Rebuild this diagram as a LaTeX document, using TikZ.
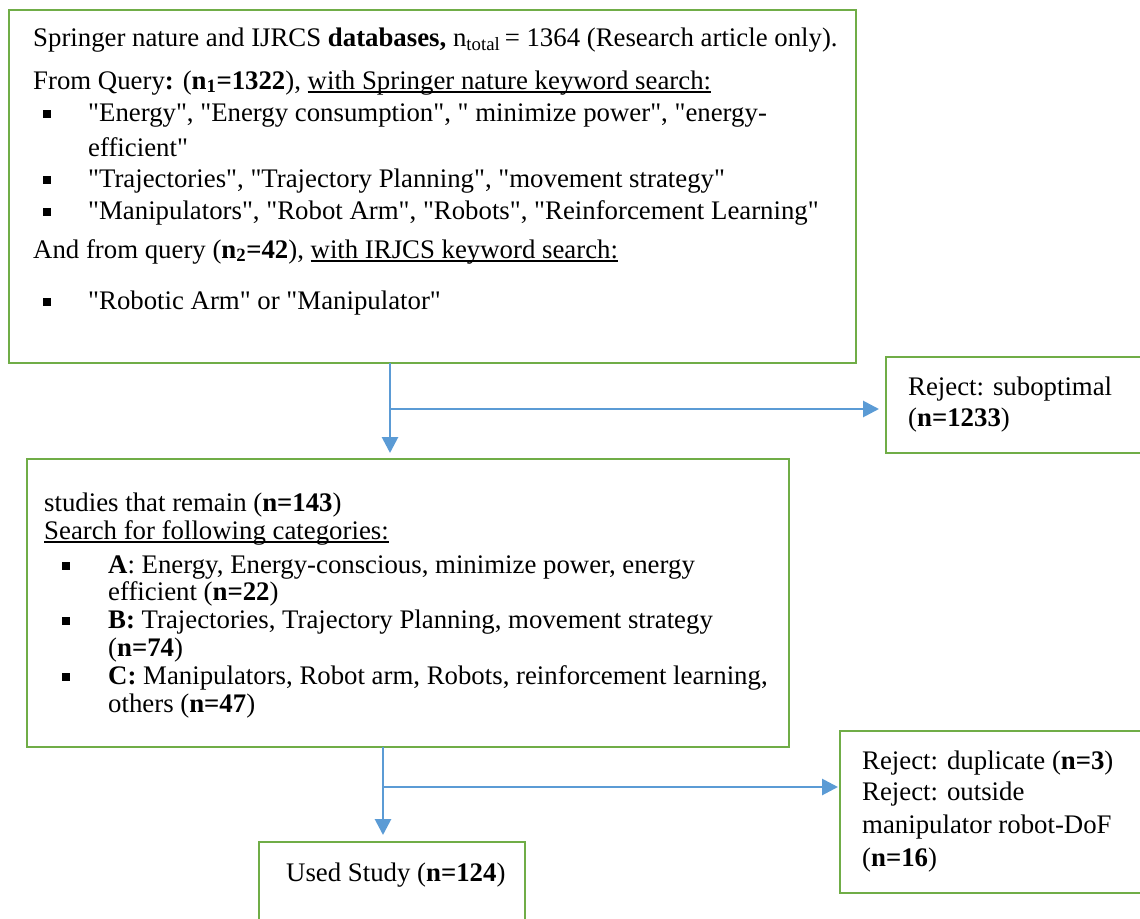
\documentclass[tikz,border=0pt]{standalone}
\usepackage{fontspec}
\setmainfont{Liberation Serif}[Ligatures=TeXOff]
\usetikzlibrary{arrows.meta}
\definecolor{boxgreen}{HTML}{70AD47}
\definecolor{flowblue}{HTML}{5B9BD5}
\newcommand{\bulsq}{\rule[3pt]{7.5pt}{8pt}}
\newcommand{\myul}[1]{\setbox0\hbox{#1}\rlap{\rule[-3.5pt]{\wd0}{1.8pt}}\box0}
\begin{document}
\begin{tikzpicture}[x=1pt,y=-1pt,
  box/.style={draw=boxgreen, line width=2.8pt, anchor=north west, inner sep=0pt, outer sep=0pt},
  txt/.style={anchor=base west, inner sep=0pt, font=\fontsize{26.8}{30}\selectfont},
  flow/.style={draw=flowblue, line width=2.8pt, -{Triangle[length=16pt,width=16pt]}}]
\clip (0,0) rectangle (1140,918);
% boxes
\node[box, minimum width=847pt, minimum height=353pt] (b1) at (9,10) {};
\node[box, minimum width=300pt, minimum height=96pt] (r1) at (886,357) {};
\node[box, minimum width=762pt, minimum height=288pt] (b2) at (27,459) {};
\node[box, minimum width=320pt, minimum height=162pt] (r2) at (840,731) {};
\node[box, minimum width=266pt, minimum height=120pt] (u) at (259,842) {};
% box 1 text
\node[txt] (t11) at (33,46) {Springer nature and IJRCS \textbf{databases,} n\textsubscript{total}\,= 1364 (Research article only).};
\node[txt] (t12) at (33,89) {From Query\textbf{:} (\textbf{n\textsubscript{1}=1322}), \myul{with Springer nature keyword search:}};
\node[txt] (t13) at (43,121) {\makebox[45pt][l]{\bulsq}"Energy", "Energy consumption", " minimize power", "energy-};
\node[txt] (t14) at (88,156) {efficient"};
\node[txt] (t15) at (43,187) {\makebox[45pt][l]{\bulsq}"Trajectories", "Trajectory Planning", "movement strategy"};
\node[txt] (t16) at (43,219) {\makebox[45pt][l]{\bulsq}"Manipulators", "Robot Arm", "Robots", "Reinforcement Learning"};
\node[txt] (t17) at (33,258) {And from query (\textbf{n\textsubscript{2}=42}), \myul{with IRJCS keyword search:}};
\node[txt] (t18) at (43,309) {\makebox[45pt][l]{\bulsq}"Robotic Arm" or "Manipulator"};
% reject 1
\node[txt] (t21) at (908,395) {Reject: suboptimal};
\node[txt] (t22) at (908,426) {(\textbf{n=1233})};
% box 2 text
\node[txt] (t31) at (44,511) {studies that remain (\textbf{n=143})};
\node[txt] (t32) at (44,539) {\myul{Search for following categories:}};
\node[txt] (t33) at (62,573) {\makebox[46pt][l]{\bulsq}\textbf{A}: Energy, Energy-conscious, minimize power, energy};
\node[txt] (t34) at (108,600) {efficient (\textbf{n=22})};
\node[txt] (t35) at (62,628) {\makebox[46pt][l]{\bulsq}\textbf{B:} Trajectories, Trajectory Planning, movement strategy};
\node[txt] (t36) at (108,656) {(\textbf{n=74})};
\node[txt] (t37) at (62,684) {\makebox[46pt][l]{\bulsq}\textbf{C:} Manipulators, Robot arm, Robots, reinforcement learning,};
\node[txt] (t38) at (108,712) {others (\textbf{n=47})};
% reject 2
\node[txt] (t41) at (862,769) {Reject: duplicate (\textbf{n=3})};
\node[txt] (t42) at (862,800) {Reject: outside};
\node[txt] (t43) at (862,833) {manipulator robot-DoF};
\node[txt] (t44) at (862,866) {(\textbf{n=16})};
% used
\node[txt] (t51) at (286,881) {Used Study (\textbf{n=124})};
% connectors
\coordinate (s1) at (390,363);
\coordinate (j1) at (390,409);
\coordinate (s2) at (383,747);
\coordinate (j2) at (383,787);
\draw[flow, shorten >=6pt] (s1) -- (s1 |- b2.north);
\draw[flow, shorten >=7pt] (j1) -- (j1 -| r1.west);
\draw[flow, shorten >=7pt] (s2) -- (s2 |- u.north);
\draw[flow, shorten >=2pt] (j2) -- (j2 -| r2.west);
\end{tikzpicture}
\end{document}
